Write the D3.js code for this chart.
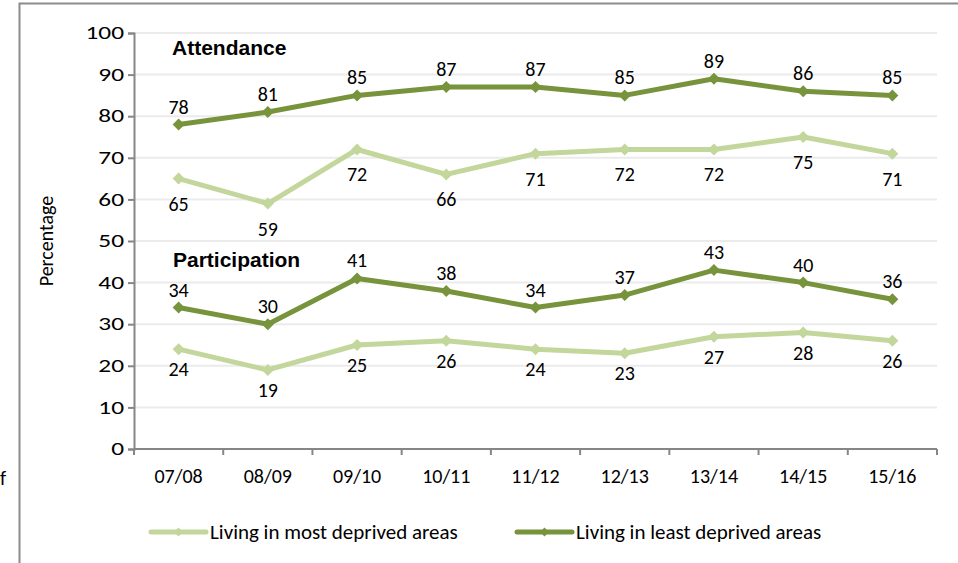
<!DOCTYPE html>
<html>
<head>
<meta charset="utf-8">
<script src="https://cdn.jsdelivr.net/npm/d3@7"></script>
<style>
  html, body { margin: 0; padding: 0; background: #fff; }
  svg { display: block; }
  text { font-family: Carlito, Lato, "Open Sans", sans-serif; fill: #000; }
  text.heading { font-family: "Liberation Sans", Arial, sans-serif; font-weight: bold; }
</style>
</head>
<body>
<svg id="chart" width="958" height="563"></svg>
<script>
// School years on the x axis
const years = ["07/08", "08/09", "09/10", "10/11", "11/12", "12/13", "13/14", "14/15", "15/16"];

// Attendance (%)
const attendanceMost  = [65, 59, 72, 66, 71, 72, 72, 75, 71];
const attendanceLeast = [78, 81, 85, 87, 87, 85, 89, 86, 85];

// Participation (%)
const participationMost  = [24, 19, 25, 26, 24, 23, 27, 28, 26];
const participationLeast = [34, 30, 41, 38, 34, 37, 43, 40, 36];

const yTicks = [0, 10, 20, 30, 40, 50, 60, 70, 80, 90, 100];
const legendLabels = ["Living in most deprived areas", "Living in least deprived areas"];

const lightGreen = "#c3d69b";
const darkGreen = "#77933c";
const axisGrey = "#868686";

const svg = d3.select("#chart");
const margin = { left: 134, right: 21, top: 33, bottom: 114 };
const W = 958, H = 563;

// outer frame (left and top edges)
svg.append("path")
  .attr("d", `M19.5,${H} L19.5,3.5 L${W},3.5`)
  .attr("fill", "none").attr("stroke", "#8c8c8c").attr("stroke-width", 2);

// stray text at the left edge
svg.append("text").attr("x", 0).attr("y", 485).attr("font-size", 20).text("f");

const x = d3.scaleBand().domain(years).range([margin.left, W - margin.right]);
const y = d3.scaleLinear().domain([0, 100]).range([H - margin.bottom, margin.top]);

// gridlines
svg.append("g").selectAll("line")
  .data(yTicks.filter(d => d > 0))
  .join("line")
  .attr("x1", margin.left).attr("x2", W - margin.right)
  .attr("y1", d => y(d)).attr("y2", d => y(d))
  .attr("stroke", "#ebebeb").attr("stroke-width", 2);

// y axis
const yAxis = svg.append("g")
  .attr("transform", `translate(${margin.left},0)`)
  .call(d3.axisLeft(y).tickValues(yTicks).tickSize(6));
yAxis.select(".domain").attr("stroke", axisGrey).attr("stroke-width", 2);
yAxis.selectAll(".tick line").attr("stroke", axisGrey).attr("stroke-width", 2);
yAxis.selectAll(".tick text")
  .attr("x", 0)
  .attr("transform", "translate(-10,0) scale(1.45,1)")
  .attr("font-size", 17.5)
  .attr("fill", "#000");

// x axis with ticks between categories
const xAxisG = svg.append("g").attr("transform", `translate(0,${y(0)})`);
xAxisG.append("line")
  .attr("x1", margin.left).attr("x2", W - margin.right)
  .attr("stroke", axisGrey).attr("stroke-width", 2);
const boundaries = years.map(d => x(d)).concat([x(years[years.length - 1]) + x.bandwidth()]);
xAxisG.selectAll("line.tk").data(boundaries).join("line")
  .attr("class", "tk")
  .attr("x1", d => d).attr("x2", d => d)
  .attr("y1", 0).attr("y2", 6)
  .attr("stroke", axisGrey).attr("stroke-width", 2);
xAxisG.selectAll("text").data(years).join("text")
  .attr("x", d => x(d) + x.bandwidth() / 2)
  .attr("y", 34)
  .attr("text-anchor", "middle")
  .attr("font-size", 20)
  .text(d => d);

// y axis title
svg.append("text")
  .attr("transform", `translate(53,${y(50)}) rotate(-90)`)
  .attr("text-anchor", "middle")
  .attr("font-size", 20)
  .text("Percentage");

// section headings
svg.append("text").attr("class", "heading").attr("x", 172).attr("y", 55)
  .attr("font-size", 21).text("Attendance");
svg.append("text").attr("class", "heading").attr("x", 173).attr("y", 267)
  .attr("font-size", 21).text("Participation");

const cx = d => x(d) + x.bandwidth() / 2;
const line = d3.line().x((d, i) => cx(years[i])).y(d => y(d));
const marker = d3.symbol().type(d3.symbolSquare).size(72);

function drawSeries(values, color, labelOffset) {
  const g = svg.append("g");
  g.append("path")
    .datum(values)
    .attr("d", line)
    .attr("fill", "none")
    .attr("stroke", color)
    .attr("stroke-width", 5)
    .attr("stroke-linejoin", "round");
  g.selectAll("path.m").data(values).join("path")
    .attr("class", "m")
    .attr("d", marker)
    .attr("transform", (d, i) => `translate(${cx(years[i])},${y(d)}) rotate(45)`)
    .attr("fill", color);
  g.selectAll("text").data(values).join("text")
    .attr("x", (d, i) => cx(years[i]))
    .attr("y", d => y(d) + labelOffset)
    .attr("text-anchor", "middle")
    .attr("dominant-baseline", "central")
    .attr("font-size", 20)
    .text(d => d);
}

drawSeries(attendanceMost, lightGreen, 25);
drawSeries(participationMost, lightGreen, 20);
drawSeries(attendanceLeast, darkGreen, -18);
drawSeries(participationLeast, darkGreen, -18);

// legend
const legend = svg.append("g");
const items = [
  { label: legendLabels[0], color: lightGreen, x: 151 },
  { label: legendLabels[1], color: darkGreen, x: 517 }
];
items.forEach(it => {
  const ly = 532;
  legend.append("line")
    .attr("x1", it.x).attr("x2", it.x + 55)
    .attr("y1", ly).attr("y2", ly)
    .attr("stroke", it.color).attr("stroke-width", 5)
    .attr("stroke-linecap", "round");
  legend.append("path")
    .attr("d", d3.symbol().type(d3.symbolSquare).size(40))
    .attr("transform", `translate(${it.x + 27.5},${ly}) rotate(45)`)
    .attr("fill", it.color);
  legend.append("text")
    .attr("x", it.x + 59).attr("y", ly)
    .attr("dominant-baseline", "central")
    .attr("font-size", 21)
    .text(it.label);
});
</script>
</body>
</html>
